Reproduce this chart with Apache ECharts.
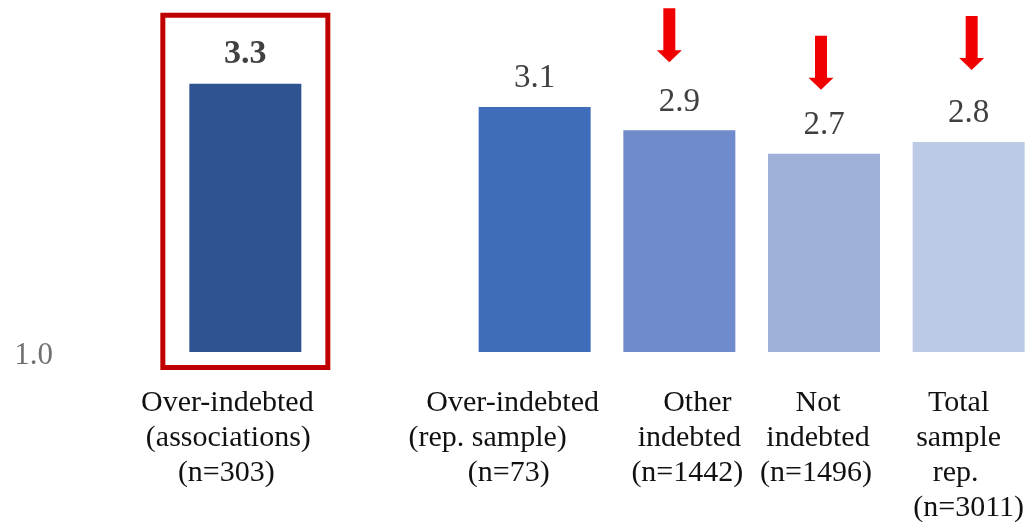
<!DOCTYPE html>
<html>
<head>
<meta charset="utf-8">
<script src="https://cdn.jsdelivr.net/npm/echarts@6/dist/echarts.min.js"></script>
<style>
  html, body { margin: 0; padding: 0; background: #ffffff; }
  #chart { width: 1025px; height: 522px; }
</style>
</head>
<body>
<div id="chart"></div>
<script>
// Group labels (one empty slot separates the association sample from the representative sample)
const categories = [
  'Over-indebted\n(associations)\n(n=303)',
  '',
  'Over-indebted\n(rep. sample)\n(n=73)',
  'Other\nindebted\n(n=1442)',
  'Not\nindebted\n(n=1496)',
  'Total\nsample\nrep.\n(n=3011)'
];
// Mean scores per group
const values = [3.3, null, 3.1, 2.9, 2.7, 2.8];
// Value axis range; only the baseline tick is labelled
const axisMin = 1.0;
const axisMax = 4.0;
// Groups flagged with a downward arrow
const arrowCategories = [3, 4, 5];

// ---- styling ----
const SERIF = '"Liberation Serif", "DejaVu Serif", serif';
const barColors = ['#2F5290', 'transparent', '#3F6DBA', '#6F8BCB', '#9EAFD8', '#BDCAE5'];
// horizontal nudge (px) for each line of each group label
const lineNudges = [
  [-18, -17, -19],
  [],
  [-22, -47, -26],
  [18, 10, 8],
  [-6, -6, -8],
  [-10, -10, -13, 0]
];
// arrow offsets from the top of the flagged bar [dx, dy]
const arrowOffsets = [[-10, -95], [-3, -91], [3, -99]];

const rich = {};
lineNudges.forEach((lines, ci) => {
  lines.forEach((s, li) => {
    rich['c' + ci + 'l' + li] = {
      fontFamily: SERIF, fontSize: 30, lineHeight: 35, color: '#111111',
      padding: s < 0 ? [0, -2 * s, 0, 0] : [0, 0, 0, 2 * s]
    };
  });
});

const chart = echarts.init(document.getElementById('chart'), null, { renderer: 'canvas' });

const arrowPath = 'path://M6.5,0 L18.5,0 L18.5,42 L25,42 L12.5,54 L0,42 L6.5,42 Z';

chart.setOption({
  animation: false,
  backgroundColor: '#ffffff',
  grid: {
    left: 173, top: 2, width: 868, height: 350,
    containLabel: false,
    outerBoundsMode: 'none'
  },
  xAxis: {
    type: 'category',
    data: categories,
    axisLine: { show: false },
    axisTick: { show: false },
    axisLabel: {
      interval: 0,
      margin: 34,
      fontFamily: SERIF,
      fontSize: 30,
      lineHeight: 35,
      color: '#111111',
      rich: rich,
      formatter: function (val, idx) {
        if (!val) return '';
        return val.split('\n').map((line, li) => '{c' + idx + 'l' + li + '|' + line + '}').join('\n');
      }
    }
  },
  yAxis: {
    type: 'value',
    min: axisMin,
    max: axisMax,
    interval: axisMax - axisMin,
    axisLine: { show: false },
    axisTick: { show: false },
    splitLine: { show: false },
    axisLabel: {
      showMaxLabel: false,
      margin: 120,
      fontFamily: SERIF,
      fontSize: 31,
      color: '#707070',
      rich: {
        // tall empty strut so the number sits slightly below the tick
        s: { lineHeight: 39, fontSize: 1, width: 0 },
        v: { fontFamily: SERIF, fontSize: 31, lineHeight: 31, color: '#707070', verticalAlign: 'bottom' }
      },
      formatter: v => '{s| }{v|' + v.toFixed(1) + '}'
    }
  },
  series: [{
    type: 'bar',
    barWidth: 112,
    data: values.map((v, i) => ({
      value: v,
      itemStyle: { color: barColors[i] },
      label: i === 0 ? { fontWeight: 'bold', fontSize: 34 } : undefined
    })),
    label: {
      show: true,
      position: 'top',
      distance: 12,
      fontFamily: SERIF,
      fontSize: 33,
      color: '#404040',
      formatter: p => p.value == null ? '' : Number(p.value).toFixed(1)
    },
    markPoint: {
      symbol: arrowPath,
      symbolSize: [25, 54],
      itemStyle: { color: '#F00000' },
      label: { show: false },
      data: arrowCategories.map((c, k) => ({
        coord: [c, values[c]],
        symbolOffset: arrowOffsets[k]
      }))
    }
  }]
});

// Red frame around the association sample bar
const topPt = chart.convertToPixel({ gridIndex: 0 }, [0, values[0]]);
const basePt = chart.convertToPixel({ gridIndex: 0 }, [0, axisMin]);
const frameW = 165;
const frameTop = topPt[1] - 68.5;
const frameBottom = basePt[1] + 15.5;
chart.setOption({
  graphic: [{
    type: 'rect',
    shape: { x: topPt[0] - frameW / 2, y: frameTop, width: frameW, height: frameBottom - frameTop },
    style: { fill: 'none', stroke: '#C00000', lineWidth: 5 },
    silent: true
  }]
});
</script>
</body>
</html>
